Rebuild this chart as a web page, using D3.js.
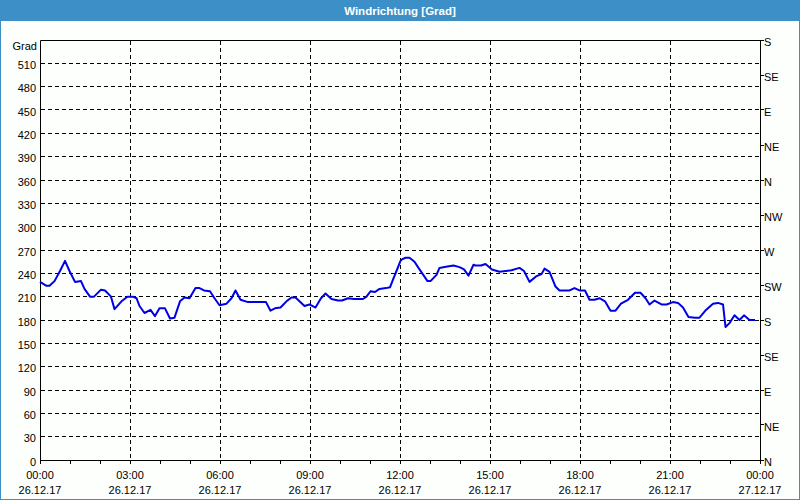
<!DOCTYPE html>
<html>
<head>
<meta charset="utf-8">
<script src="https://cdn.jsdelivr.net/npm/d3@7"></script>
<style>
  html, body { margin: 0; padding: 0; background: #fcfffc; }
  svg { display: block; }
  text { font-family: "Liberation Sans", Arial, sans-serif; font-size: 11px; fill: #000; }
</style>
</head>
<body>
<svg id="chart" width="800" height="500"></svg>
<script>
// ---- data (minutes since 26.12.17 00:00, wind direction in degrees) ----
const times = [0, 13, 19, 29, 40, 50, 59, 70, 82, 89, 100, 108, 122, 130, 142, 149, 163, 175, 186, 193, 199, 209, 221, 230, 239, 250, 260, 269, 280, 289, 299, 311, 319, 328, 340, 349, 359, 373, 383, 391, 401, 416, 452, 461, 470, 481, 493, 503, 511, 529, 539, 551, 562, 571, 583, 596, 604, 616, 628, 646, 653, 661, 670, 679, 692, 700, 706, 713, 721,
  724, 731, 739, 749, 757, 775, 781, 793, 799, 809, 827, 839, 848, 857, 867, 871, 882, 891, 904, 919, 943, 959, 968, 979, 992, 1003, 1009, 1019, 1031, 1039, 1059, 1069, 1079, 1090, 1099, 1109, 1119, 1130, 1141, 1151, 1162, 1176, 1190, 1201, 1211, 1219, 1229, 1243, 1253, 1266, 1276, 1286, 1297, 1310, 1319, 1332, 1346, 1356, 1366, 1371, 1379, 1389, 1399, 1408, 1419, 1430];
const values = [229, 224, 224, 230, 243, 256, 243, 229, 230, 220, 210, 210, 219, 218, 210, 194, 204, 210, 210, 208, 198, 189, 193, 185, 195, 195, 182, 183, 204, 209, 208, 221, 221, 218, 217, 208, 199, 201, 208, 218, 206, 203, 203, 192, 195, 196, 204, 209, 209, 198, 200, 196, 208, 214, 207, 205, 205, 208, 207, 207, 210, 217, 216, 220, 221, 222, 232, 243, 256,
  258, 260, 260, 255, 247, 230, 230, 238, 247, 248, 250, 248, 245, 237, 251, 250, 250, 252, 245, 242, 244, 247, 243, 229, 236, 239, 246, 242, 223, 218, 218, 221, 218, 218, 206, 206, 208, 204, 192, 192, 201, 206, 215, 215, 208, 200, 205, 200, 200, 203, 202, 196, 184, 183, 183, 193, 201, 202, 200, 171, 176, 186, 180, 186, 180, 180];
const leftTicks = [30, 60, 90, 120, 150, 180, 210, 240, 270, 300, 330, 360, 390, 420, 450, 480, 510];
const compassValues = [540, 495, 450, 405, 360, 315, 270, 225, 180, 135, 90, 45, 0];
const compassLabels = ["S", "SE", "E", "NE", "N", "NW", "W", "SW", "S", "SE", "E", "NE", "N"];
const timeTicks = [0, 180, 360, 540, 720, 900, 1080, 1260, 1440];
const timeLabels = ["00:00", "03:00", "06:00", "09:00", "12:00", "15:00", "18:00", "21:00", "00:00"];
const dateLabels = ["26.12.17", "26.12.17", "26.12.17", "26.12.17", "26.12.17", "26.12.17", "26.12.17", "26.12.17", "27.12.17"];
const titleText = "Windrichtung [Grad]";
const unitText = "Grad";

// ---- layout ----
const W = 800, H = 500;
const L = 40, R = 760, T = 40, B = 460;
const svg = d3.select("#chart");
const x = d3.scaleLinear().domain([0, 1440]).range([L, R]);
const y = d3.scaleLinear().domain([0, 540]).range([B, T]);
const crisp = v => Math.round(v) + 0.5;

// window frame + title bar
svg.append("rect").attr("x", 0).attr("y", 0).attr("width", W).attr("height", H).attr("fill", "#fcfffc");
svg.append("rect").attr("x", 0).attr("y", 0).attr("width", W).attr("height", 21).attr("fill", "#3c8fc7");
svg.append("rect").attr("x", 0.5).attr("y", 0.5).attr("width", W - 1).attr("height", H - 1)
  .attr("fill", "none").attr("stroke", "#3c8fc7").attr("stroke-width", 1);
svg.append("text").attr("x", 400).attr("y", 14.5).attr("text-anchor", "middle")
  .style("font-weight", "bold").style("font-size", "11.5px").style("fill", "#fff").text(titleText);

// grid
const grid = svg.append("g").attr("stroke", "#000").attr("stroke-width", 1).attr("stroke-dasharray", "4,3");
grid.selectAll("line.h").data(leftTicks).join("line")
  .attr("x1", L + 1).attr("x2", R).attr("y1", d => crisp(y(d) - 0.5)).attr("y2", d => crisp(y(d) - 0.5));
grid.selectAll("line.v").data(timeTicks.slice(1, -1)).join("line")
  .attr("y1", T + 1).attr("y2", B).attr("x1", d => crisp(x(d))).attr("x2", d => crisp(x(d)));

// frame
const frame = svg.append("g").attr("stroke", "#000").attr("stroke-width", 1).attr("fill", "none");
frame.append("line").attr("x1", L + 0.5).attr("x2", L + 0.5).attr("y1", T + 0.5).attr("y2", B + 0.5);
frame.append("line").attr("x1", R + 0.5).attr("x2", R + 0.5).attr("y1", T + 0.5).attr("y2", B + 0.5);
frame.append("line").attr("x1", L + 0.5).attr("x2", R + 0.5).attr("y1", T + 0.5).attr("y2", T + 0.5);
frame.append("line").attr("x1", L + 0.5).attr("x2", R + 0.5).attr("y1", B + 0.5).attr("y2", B + 0.5);

// bottom hourly ticks
const hours = d3.range(0, 1441, 60);
svg.append("g").attr("stroke", "#000").selectAll("line").data(hours).join("line")
  .attr("x1", d => crisp(x(d))).attr("x2", d => crisp(x(d))).attr("y1", B).attr("y2", B + 4);

// right compass ticks
svg.append("g").attr("stroke", "#000").selectAll("line").data(compassValues).join("line")
  .attr("x1", R).attr("x2", R + 4).attr("y1", d => crisp(y(d) - 0.5)).attr("y2", d => crisp(y(d) - 0.5));

// left labels
svg.append("g").selectAll("text").data([0].concat(leftTicks)).join("text")
  .attr("x", 36).attr("y", d => y(d) + 5.5).attr("text-anchor", "end").text(d => d);
svg.append("text").attr("x", 37).attr("y", 50).attr("text-anchor", "end").text(unitText);

// right labels
svg.append("g").selectAll("text").data(compassValues).join("text")
  .attr("x", 764).attr("y", (d) => y(d) + 5.5).text((d, i) => compassLabels[i]);

// bottom labels
const bl = svg.append("g");
bl.selectAll("text.t").data(timeTicks).join("text")
  .attr("x", d => x(d)).attr("y", 479).attr("text-anchor", "middle").text((d, i) => timeLabels[i]);
bl.selectAll("text.d").data(timeTicks).join("text").attr("class", "d")
  .attr("x", d => x(d)).attr("y", 494).attr("text-anchor", "middle").text((d, i) => dateLabels[i]);

// series
const pts = times.map((t, i) => [t, values[i]]);
svg.append("path").datum(pts)
  .attr("fill", "none").attr("stroke", "#0000e6").attr("stroke-width", 2).attr("stroke-linejoin", "round")
  .attr("d", d3.line().x(d => x(d[0])).y(d => y(d[1])));
</script>
</body>
</html>
